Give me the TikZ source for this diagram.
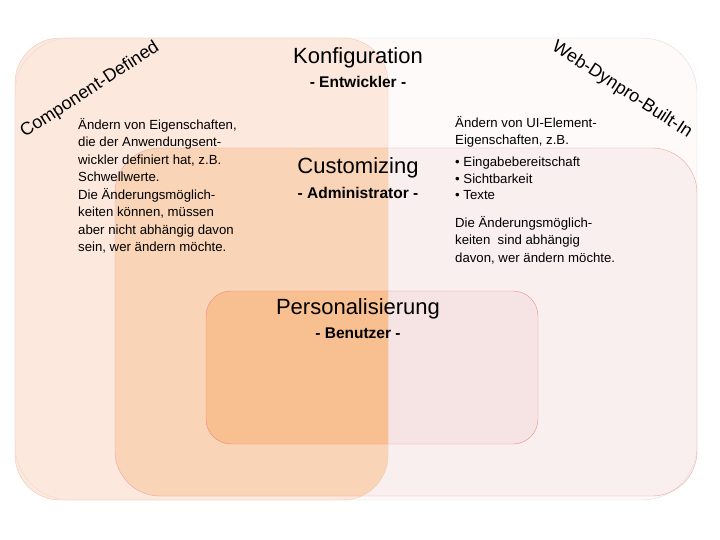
\documentclass[tikz,border=0pt]{standalone}
\usepackage{fontspec}
\setmainfont{Liberation Sans}
\begin{document}
\begin{tikzpicture}[x=1pt,y=-1pt,
 txt/.style={font=\fontsize{13.2}{17.5}\selectfont,align=left,anchor=north west,inner sep=0},
 ttl/.style={font=\fontsize{22}{24}\selectfont,inner sep=0},
 sub/.style={font=\bfseries\fontsize{15.5}{18}\selectfont,inner sep=0},
 side/.style={font=\fontsize{18}{20}\selectfont,inner sep=0}]
\definecolor{outerf}{HTML}{FDFAF9}\definecolor{outerd}{HTML}{EADADA}
\definecolor{custf}{HTML}{F9EFEF}\definecolor{custd}{HTML}{EFA3A3}
\definecolor{persf}{HTML}{F6E4E4}\definecolor{persd}{HTML}{F08A8A}
\definecolor{compf}{HTML}{FCE8DC}\definecolor{compc}{HTML}{F9D4B7}\definecolor{compp}{HTML}{F8BF90}
\definecolor{compd}{HTML}{F2C9B0}
\useasboundingbox (0,0) rectangle (720,540);
\def\outerp{(15,38) rectangle (697,500)}
\def\custp{(115,148) rectangle (697,496)}
\def\persp{(206,291) rectangle (538,444)}
\def\compp{(15,38) rectangle (388,500)}
\fill[outerf,rounded corners=55] \outerp;
\fill[custf,rounded corners=45] \custp;
\fill[persf,rounded corners=25] \persp;
\fill[compf,rounded corners=45] \compp;
\begin{scope}\clip[rounded corners=45] \compp;
 \fill[compc,rounded corners=45] \custp;
 \fill[compp,rounded corners=25] \persp;
\end{scope}
\draw[outerd,rounded corners=55] \outerp;
\draw[custd,rounded corners=45] \custp;
\draw[persd,rounded corners=25] \persp;
\draw[compd,rounded corners=45] \compp;
\node[ttl] (k) at (358,58) {Konfiguration};
\node[sub] (ke) at (358,82) {- Entwickler -};
\node[ttl] (c) at (358,168) {Customizing};
\node[sub] (ca) at (358,193) {- Administrator -};
\node[ttl] (p) at (358,309) {Personalisierung};
\node[sub] (pb) at (358,333) {- Benutzer -};
\node[side,rotate=33] (cd) at (90,90) {Component-Defined};
\node[side,rotate=-33] (wd) at (622,90) {Web-Dynpro-Built-In};
\node[txt] (lt) at (78,118) {Ändern von Eigenschaften,\\die der Anwendungsent-\\wickler definiert hat, z.B.\\Schwellwerte.\\Die Änderungsmöglich-\\keiten können, müssen\\aber nicht abhängig davon\\sein, wer ändern möchte.};
\node[txt] (rt) at (455,116) {Ändern von UI-Element-\\Eigenschaften, z.B.};
\node[txt,font=\fontsize{13.2}{16.5}\selectfont] (rb) at (455,157) {\textbullet\ Eingabebereitschaft\\\textbullet\ Sichtbarkeit\\\textbullet\ Texte};
\node[txt] (rc) at (455,216) {Die Änderungsmöglich-\\keiten\ \ sind abhängig\\davon, wer ändern möchte.};
\end{tikzpicture}
\end{document}
